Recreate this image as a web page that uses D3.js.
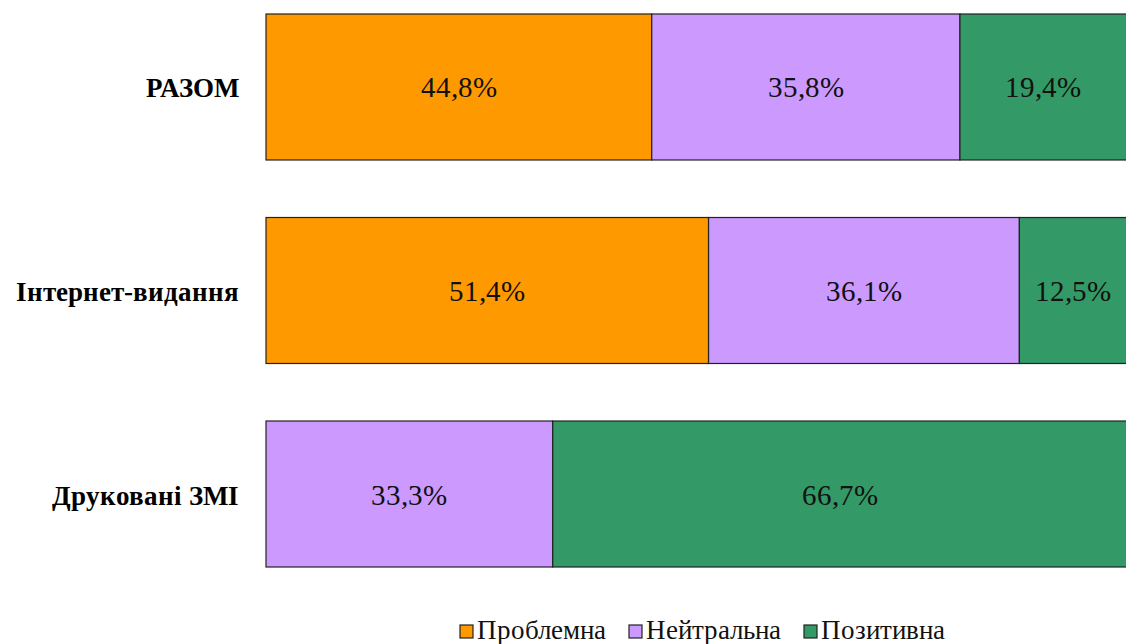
<!DOCTYPE html>
<html><head><meta charset="utf-8">
<script src="https://cdn.jsdelivr.net/npm/d3@7"></script>
<style>
@font-face{font-family:"RefSerif";src:local("Liberation Serif"),local("LiberationSerif");font-weight:normal;}
@font-face{font-family:"RefSerif";src:local("Liberation Serif Bold"),local("LiberationSerif-Bold");font-weight:bold;}
</style>
</head><body style="margin:0">
<svg id="c" width="1126" height="644" font-family="RefSerif, 'Liberation Serif', serif"></svg>
<script>
const categories = ["РАЗОМ", "Інтернет-видання", "Друковані ЗМІ"];
const seriesNames = ["Проблемна", "Нейтральна", "Позитивна"];
const problem = [44.8, 51.4, 0];
const neutral = [35.8, 36.1, 33.3];
const positive = [19.4, 12.5, 66.7];
const colors = ["#FF9900", "#CC99FF", "#339966"];

const FONT = "RefSerif, 'Liberation Serif', serif";
const svg = d3.select("#c");
const x = d3.scaleLinear().domain([0, 100]).range([266, 1127]);
const y = d3.scaleBand().domain(categories).range([14, 567]).paddingInner(0.2826).paddingOuter(0);

const rows = categories.map((c, i) => ({cat: c, v: [problem[i], neutral[i], positive[i]]}));
rows.forEach(r => {
  let acc = 0;
  r.v.forEach((val, k) => {
    if (val > 0) {
      const x0 = x(acc), x1 = x(acc + val);
      svg.append("rect").attr("x", x0).attr("y", y(r.cat)).attr("width", x1 - x0).attr("height", y.bandwidth())
        .attr("fill", colors[k]).attr("stroke", "#222").attr("stroke-width", 1.2);
      svg.append("text").attr("x", (x0 + x1) / 2).attr("y", y(r.cat) + y.bandwidth() / 2 + 10.5)
        .attr("text-anchor", "middle").style("font-family", FONT)
        .attr("font-size", 28.5).attr("fill", "#111").text(val.toFixed(1).replace(".", ",") + "%");
    }
    acc += val;
  });
  svg.append("text").attr("x", 239).attr("y", y(r.cat) + y.bandwidth() / 2 + 10.5)
    .attr("text-anchor", "end").style("font-family", FONT)
    .attr("font-size", 27).attr("font-weight", "bold").attr("fill", "#000").text(r.cat);
});

const legX = [460, 629, 804];
seriesNames.forEach((s, k) => {
  svg.append("rect").attr("x", legX[k]).attr("y", 625).attr("width", 13).attr("height", 13)
    .attr("fill", colors[k]).attr("stroke", "#222").attr("stroke-width", 1.2);
  svg.append("text").attr("x", legX[k] + 17).attr("y", 639).style("font-family", FONT)
    .attr("font-size", 27).attr("fill", "#111").text(s);
});
</script>
</body></html>
